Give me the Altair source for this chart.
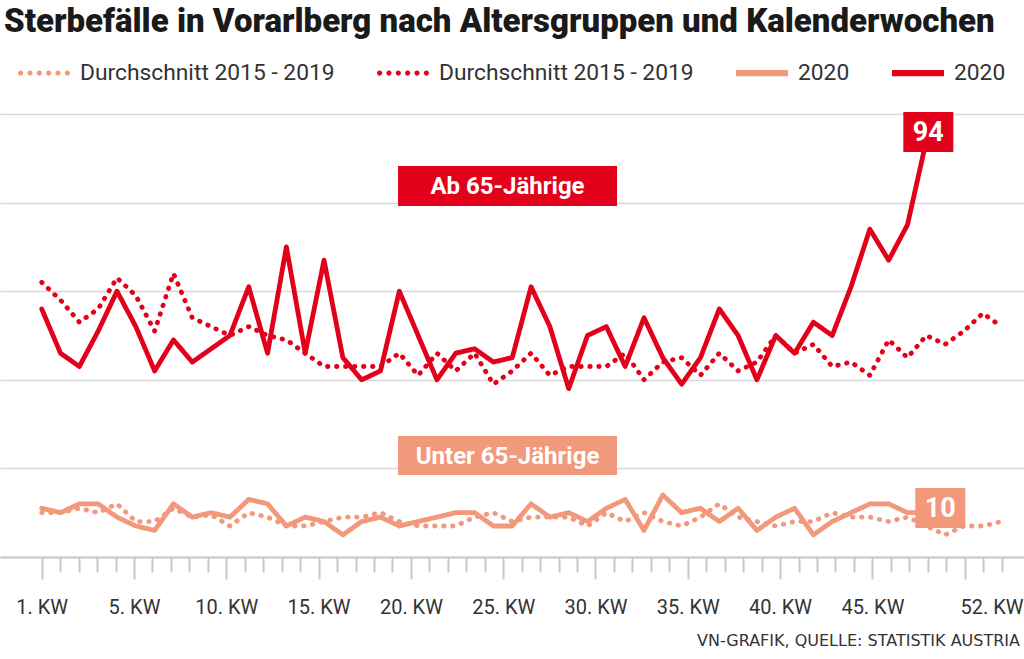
import altair as alt
import pandas as pd

# ---------------- data ----------------
weeks_avg = list(range(1, 53))
weeks_2020 = list(range(1, 49))

avg_ab65 = [62, 58, 53, 56, 63, 59, 51, 64, 54, 52,
            50, 52, 50, 49, 46, 43, 43, 43, 43, 46,
            41, 46, 42, 46, 39, 42, 46, 41, 43, 43,
            43, 46, 40, 44, 45, 41, 46, 42, 44, 50,
            46, 48, 43, 44, 41, 49, 45, 50, 48, 51,
            55, 52]
y2020_ab65 = [56, 46, 43, 51, 60, 52, 42, 49, 44, 47,
              50, 61, 46, 70, 46, 67, 45, 40, 42, 60,
              50, 40, 46, 47, 44, 45, 61, 52, 38, 50,
              52, 43, 54, 45, 39, 45, 56, 50, 40, 50,
              46, 53, 50, 61, 74, 67, 75, 94]
avg_unter65 = [10, 10, 11, 10, 12, 8, 8, 11, 9, 9.5,
               7, 10, 9, 7, 7, 8, 9, 9, 10, 8,
               7, 7, 7, 9, 10, 8, 9, 9, 9, 7,
               10, 8, 10, 8, 7, 9, 12, 9, 8, 7,
               8, 8, 10, 9, 9, 8, 9, 7, 5, 7,
               7, 8]
y2020_unter65 = [11, 10, 12, 12, 9, 7, 6, 12, 9, 10,
                 9, 13, 12, 7, 9, 8, 5, 8, 9, 7,
                 8, 9, 10, 10, 7, 7, 12, 9, 10, 8,
                 11, 13, 6, 14, 10, 11, 8, 11, 6, 9,
                 11, 5, 8, 10, 12, 12, 10, 10]

series_names = ["Durchschnitt 2015 - 2019 (unter 65)",
                "Durchschnitt 2015 - 2019 (ab 65)",
                "2020 (unter 65)",
                "2020 (ab 65)"]

title_text = "Sterbefälle in Vorarlberg nach Altersgruppen und Kalenderwochen"
group_labels = ["Ab 65-Jährige", "Unter 65-Jährige"]
source_text = "VN-GRAFIK, QUELLE: STATISTIK AUSTRIA"

# ---------------- styling ----------------
RED = "#e2001a"
ORANGE = "#f2987b"
FONT = "Roboto"
GRID = "#d9d9d9"

rows = []
for w, v in zip(weeks_avg, avg_unter65):
    rows.append({"week": w, "value": v, "series": series_names[0]})
for w, v in zip(weeks_avg, avg_ab65):
    rows.append({"week": w, "value": v, "series": series_names[1]})
for w, v in zip(weeks_2020, y2020_unter65):
    rows.append({"week": w, "value": v, "series": series_names[2]})
for w, v in zip(weeks_2020, y2020_ab65):
    rows.append({"week": w, "value": v, "series": series_names[3]})
df = pd.DataFrame(rows)

# axis ticks: 53 evenly spaced ticks over weeks 1..52 (as in the original graphic)
tick_values = [1 + t * 51 / 52 for t in range(53)]
T = "round((datum.value - 1) * 52 / 51)"
label_expr = (f"{T} == 0 ? '1. KW' : ({T} == 52 ? '52. KW' : "
              f"(({T} % 5 == 0 && {T} < 50) ? {T} + '. KW' : ''))")

x_scale = alt.Scale(domain=[-1.216, 53.19], nice=False, zero=False)
y_scale = alt.Scale(domain=[0, 100], nice=False)

x_enc = alt.X("week:Q", scale=x_scale, axis=alt.Axis(
    values=tick_values, tickCount=80, labelExpr=label_expr, title=None, grid=False,
    domain=True, domainColor="#c8c8c8", domainWidth=2,
    ticks=True, tickColor="#c8c8c8", tickWidth=2,
    tickSize={"condition": {"test": f"{T} % 5 == 0", "value": 22}, "value": 15},
    labelOffset={"condition": {"test": f"{T} == 52", "value": -10}, "value": 0},
    labelPadding={"condition": {"test": f"{T} == 52", "value": 25}, "value": 18},
    labelFont=FONT, labelFontSize=20, labelColor="#333333",
    labelOverlap=False, labelFlush=False, labelBound=False))
y_enc = alt.Y("value:Q", scale=y_scale, axis=alt.Axis(
    values=[0, 20, 40, 60, 80, 100], title=None, labels=False, ticks=False,
    domain=False, grid=True, gridColor=GRID, gridWidth=1.5))

color_scale = alt.Scale(domain=series_names, range=[ORANGE, RED, ORANGE, RED])

lines = alt.Chart(df).mark_line(strokeCap="round", strokeJoin="round", strokeWidth=4.8).encode(
    x=x_enc,
    y=y_enc,
    color=alt.Color("series:N", scale=color_scale, legend=None),
    strokeDash=alt.StrokeDash("series:N", scale=alt.Scale(
        domain=series_names,
        range=[[0.5, 8.5], [0.5, 8.5], [1, 0], [1, 0]]), legend=None),
    order=alt.Order("week:Q"),
)


# ---------------- legend (symbols: row of dots / thick bar) ----------------
def dots_path(n=6, r=0.1):
    parts = []
    step = (2 - 2 * r) / (n - 1)
    for i in range(n):
        cx = -1 + r + i * step
        parts.append(f"M{cx - r:.3f},0a{r},{r} 0 1,0 {2 * r},0a{r},{r} 0 1,0 {-2 * r},0Z")
    return "".join(parts)


bar_path = "M-1,-0.12L1,-0.12L1,0.12L-1,0.12Z"
legend_spec = alt.Legend(orient="none", legendX=18, legendY=-67,
                         direction="horizontal", columns=4, title=None,
                         symbolSize=2704, symbolStrokeWidth=0, symbolOpacity=1,
                         labelFont=FONT, labelFontSize=22.8, labelColor="#333333",
                         labelOffset=10, columnPadding=42, padding=0,
                         labelLimit=400,
                         labelExpr="split(datum.label, ' (')[0]")
legend_layer = alt.Chart(df).mark_point(filled=True, opacity=0).encode(
    x=alt.X("week:Q", scale=x_scale),
    y=alt.Y("value:Q", scale=y_scale),
    color=alt.Color("series:N", scale=color_scale, legend=legend_spec),
    shape=alt.Shape("series:N", scale=alt.Scale(
        domain=series_names,
        range=[dots_path(), dots_path(), bar_path, bar_path]), legend=legend_spec),
)


# ---------------- annotations ----------------
def box_path(w, h, dx, dy, unit=20.0):
    x0, x1 = (-w / 2 + dx) / unit, (w / 2 + dx) / unit
    y0, y1 = (-h / 2 + dy) / unit, (h / 2 + dy) / unit
    return f"M{x0:.3f},{y0:.3f}L{x1:.3f},{y0:.3f}L{x1:.3f},{y1:.3f}L{x0:.3f},{y1:.3f}Z"


def label_box(text, week, value, color, w, h, dx=0, dy=0, size=24):
    d = pd.DataFrame({"week": [week], "value": [value], "text": [text]})
    box = alt.Chart(d).mark_point(shape=box_path(w, h, dx, dy), size=1600,
                                  filled=True, fill=color, opacity=1,
                                  strokeWidth=0).encode(
        x=alt.X("week:Q", scale=x_scale), y=alt.Y("value:Q", scale=y_scale))
    txt = alt.Chart(d).mark_text(font=FONT, fontSize=size, fontWeight="bold",
                                 color="white", align="center", baseline="middle",
                                 dx=dx, dy=dy + 1).encode(
        x=alt.X("week:Q", scale=x_scale), y=alt.Y("value:Q", scale=y_scale),
        text="text:N")
    return box + txt


ab_box = label_box(group_labels[0], 25.75, 83.75, RED, 219, 40)
unter_box = label_box(group_labels[1], 25.75, 22.9, ORANGE, 219, 39)
end_red = label_box(str(int(y2020_ab65[-1])), weeks_2020[-1], y2020_ab65[-1], RED,
                    50, 40, dx=2, dy=-8.6, size=27)
end_orange = label_box(str(int(y2020_unter65[-1])), weeks_2020[-1], y2020_unter65[-1],
                       ORANGE, 50, 40, dx=14, dy=-4.7, size=27)

source = alt.Chart(pd.DataFrame({"t": [source_text]})).mark_text(
    font="DejaVu Sans", fontSize=16, color="#333333", align="right",
    baseline="middle").encode(x=alt.value(1020), y=alt.value(527), text="t:N")

chart = alt.layer(legend_layer, lines, ab_box, unter_box, end_red, end_orange,
                  source).properties(
    width=1024, height=443,
    title=alt.TitleParams(title_text, anchor="start", font=FONT, fontSize=33,
                          fontWeight=900, color="#1a1a1a", offset=8, dx=4,
                          frame="group"),
    autosize=alt.AutoSizeParams(type="none"),
    padding={"left": 0, "right": 0, "top": 114, "bottom": 102},
    background="white",
).configure_view(stroke=None)

chart.save("out.html", embed_options={"renderer": "svg", "actions": False})
